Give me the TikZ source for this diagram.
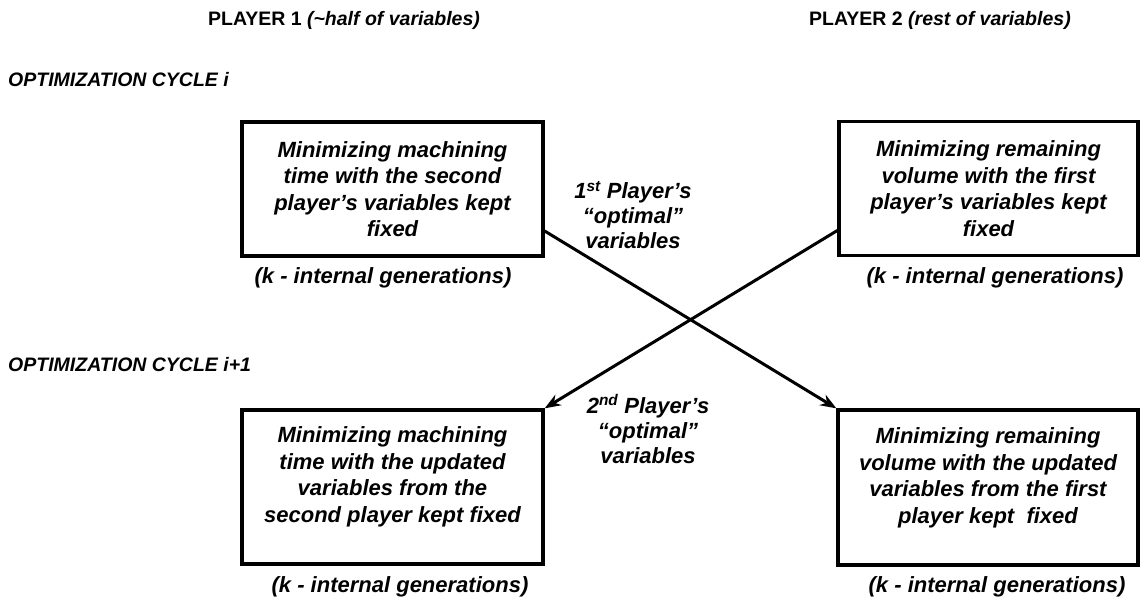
\documentclass[tikz,border=0pt]{standalone}
\usepackage{fontspec}
\setmainfont{Liberation Sans}
\usetikzlibrary{arrows.meta}
\begin{document}
\begin{tikzpicture}[x=1pt,y=-1pt,
  hdr/.style={font=\fontsize{19.5}{23}\selectfont\bfseries, inner sep=0pt},
  btxt/.style={font=\fontsize{22}{26.5}\selectfont\bfseries\itshape, align=center, inner sep=0pt},
  mtxt/.style={font=\fontsize{22}{25}\selectfont\bfseries\itshape, align=center, inner sep=0pt},
  box/.style={draw, line width=3.3pt, minimum width=301pt, minimum height=134pt, inner sep=0pt},
  arr/.style={line width=3pt, -{Stealth[length=16pt,width=12pt,inset=5pt]}}]
\fill[white] (0,0) rectangle (1141,601);
\useasboundingbox (0,0) rectangle (1141,601);

% headers
\node[hdr] (p1) at (344,20) {PLAYER 1 \textit{(\textasciitilde half of variables)}};
\node[hdr] (p2) at (940,20) {PLAYER 2 \textit{(rest of variables)}};
\node[hdr, anchor=west] (c1) at (8,80) {\textit{OPTIMIZATION CYCLE i}};
\node[hdr, anchor=west] (c2) at (8,365) {\textit{OPTIMIZATION CYCLE i+1}};

% top boxes
\node[box, btxt] (tl) at (392.5,189) {Minimizing machining\\time with the second\\player’s variables kept\\fixed};
\node[box, btxt, minimum width=299pt] (tr) at (988.5,188.5) {Minimizing remaining\\volume with the first\\player’s variables kept\\fixed};

% bottom boxes
\node[box, minimum height=154pt] (bl) at (392.5,487) {};
\node[btxt] (blt) at (392.5,477) {Minimizing machining\\time with the updated\\variables from the\\second player kept fixed};
\node[box, minimum width=300pt, minimum height=155pt] (br) at (988,487.5) {};
\node[btxt] (brt) at (988,478) {Minimizing remaining\\volume with the updated\\variables from the first\\player kept\ \ fixed};

% generation labels
\node[btxt] (k1) at (383,278) {(k - internal generations)};
\node[btxt] (k2) at (995,278) {(k - internal generations)};
\node[btxt] (k3) at (400,587) {(k - internal generations)};
\node[btxt] (k4) at (997,587) {(k - internal generations)};

% middle labels
\node[mtxt] (m1) at (633,215) {1\textsuperscript{st} Player’s\\“optimal”\\variables};
\node[mtxt] (m2) at (648,429) {2\textsuperscript{nd} Player’s\\“optimal”\\variables};

% crossing arrows
\draw[arr] ([yshift=-42pt]tl.east) -- (br.north west);
\draw[arr] ([yshift=-42pt]tr.west) -- (bl.north east);
\end{tikzpicture}
\end{document}
